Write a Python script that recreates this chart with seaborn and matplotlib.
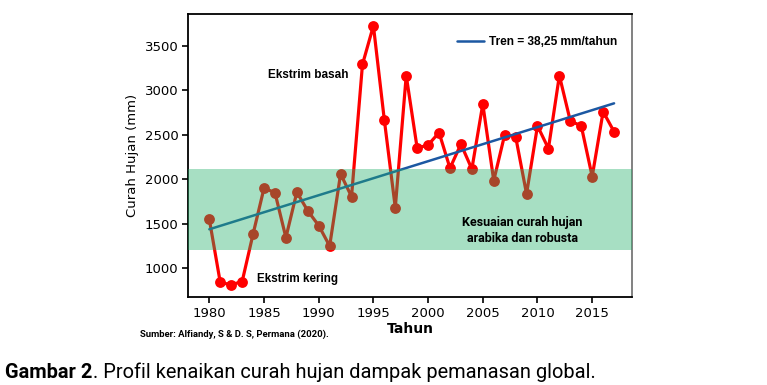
import matplotlib
matplotlib.use('Agg')
import matplotlib.pyplot as plt
import seaborn as sns
import pandas as pd

# data
years=list(range(1980,2018))
rain=[1550,840,815,850,1385,1900,1850,1345,1855,1645,
      1480,1250,2060,1805,3290,3725,2665,1680,3165,2350,
      2385,2525,2125,2395,2115,2845,1985,2500,2480,1835,
      2600,2345,3165,2655,2600,2030,2760,2535]
trend_base=1438      # trend value in 1980
trend_slope=38.25    # mm per year
band_low,band_high=1200,2115
x_ticks=[1980,1985,1990,1995,2000,2005,2010,2015]
y_ticks=[1000,1500,2000,2500,3000,3500]

df=pd.DataFrame({'Tahun':years,'Curah':rain})
df['Tren']=[trend_base+trend_slope*(y-1980) for y in years]

sns.set_theme(style='ticks',context='paper')
plt.rcParams['font.family']=['DejaVu Sans']
plt.rcParams['text.color']='black'
plt.rcParams['axes.labelcolor']='black'

fig=plt.figure(figsize=(7.67,3.85),dpi=100)
ax=fig.add_axes([0.2451,0.2286,0.824-0.2451,0.9636-0.2286])

sns.lineplot(data=df,x='Tahun',y='Curah',color='#ff0000',marker='o',markersize=7.8,
             markeredgewidth=0,linewidth=2.3,ax=ax,zorder=2)
sns.lineplot(data=df,x='Tahun',y='Tren',color='#1c58a2',linewidth=1.8,ax=ax,zorder=2.5,
             label='Tren = 38,25 mm/tahun')

# green overlay, drawn on top so the red line turns brown inside it
ax.axhspan(band_low,band_high,color=(35/255,177/255,106/255),alpha=0.4,lw=0,zorder=3)

ax.set_xlim(1978.05,2018.64)
ax.set_ylim(677,3857)
ax.set_xticks(x_ticks)
ax.set_yticks(y_ticks)
ax.tick_params(axis='both',labelsize=9.5,length=4,width=1.2,colors='black',pad=3)
ax.tick_params(top=False,right=False)
for s in ['left','bottom','top']:
    ax.spines[s].set_color('black')
    ax.spines[s].set_linewidth(1.3)
ax.spines['right'].set_color('#777777')
ax.spines['right'].set_linewidth(1.3)

ax.set_xlabel('Tahun',fontsize=10,fontweight='bold',labelpad=2)
ax.set_ylabel('Curah Hujan (mm)',fontsize=9.5,labelpad=4)

leg=ax.legend(loc='upper right',frameon=False,handlelength=2.3,handletextpad=0.45,
              bbox_to_anchor=(0.992,0.96),
              prop={'family':'Liberation Sans','weight':'bold','size':8.6})

ax.text(1989.0,3172,'Ekstrim basah',ha='center',va='center',fontsize=8.5,
        fontweight='bold',family='Liberation Sans',zorder=5)
ax.text(1988.1,880,'Ekstrim kering',ha='center',va='center',fontsize=8.4,
        fontweight='bold',family='Liberation Sans',zorder=5)
ax.text(2008.6,1425,'Kesuaian curah hujan\narabika dan robusta',ha='center',va='center',
        fontsize=9,fontweight='bold',family='Roboto',linespacing=1.3,zorder=5)

fig.text(140/767,1-334/385,'Sumber: Alfiandy, S & D. S, Permana (2020).',ha='left',va='center',
         fontsize=6.8,fontweight='bold',family='Roboto')

# caption: bold part first, then the rest placed right after it
cap1=fig.text(5/767,1-372/385,'Gambar 2',ha='left',va='center',fontsize=14.4,
              fontweight='bold',family='Roboto')
fig.canvas.draw()
bb=cap1.get_window_extent(fig.canvas.get_renderer())
fig.text(bb.x1/767+0.001,1-372/385,'. Profil kenaikan curah hujan dampak pemanasan global.',
         ha='left',va='center',fontsize=14.4,family='Roboto')

fig.savefig('out.png',dpi=100)
